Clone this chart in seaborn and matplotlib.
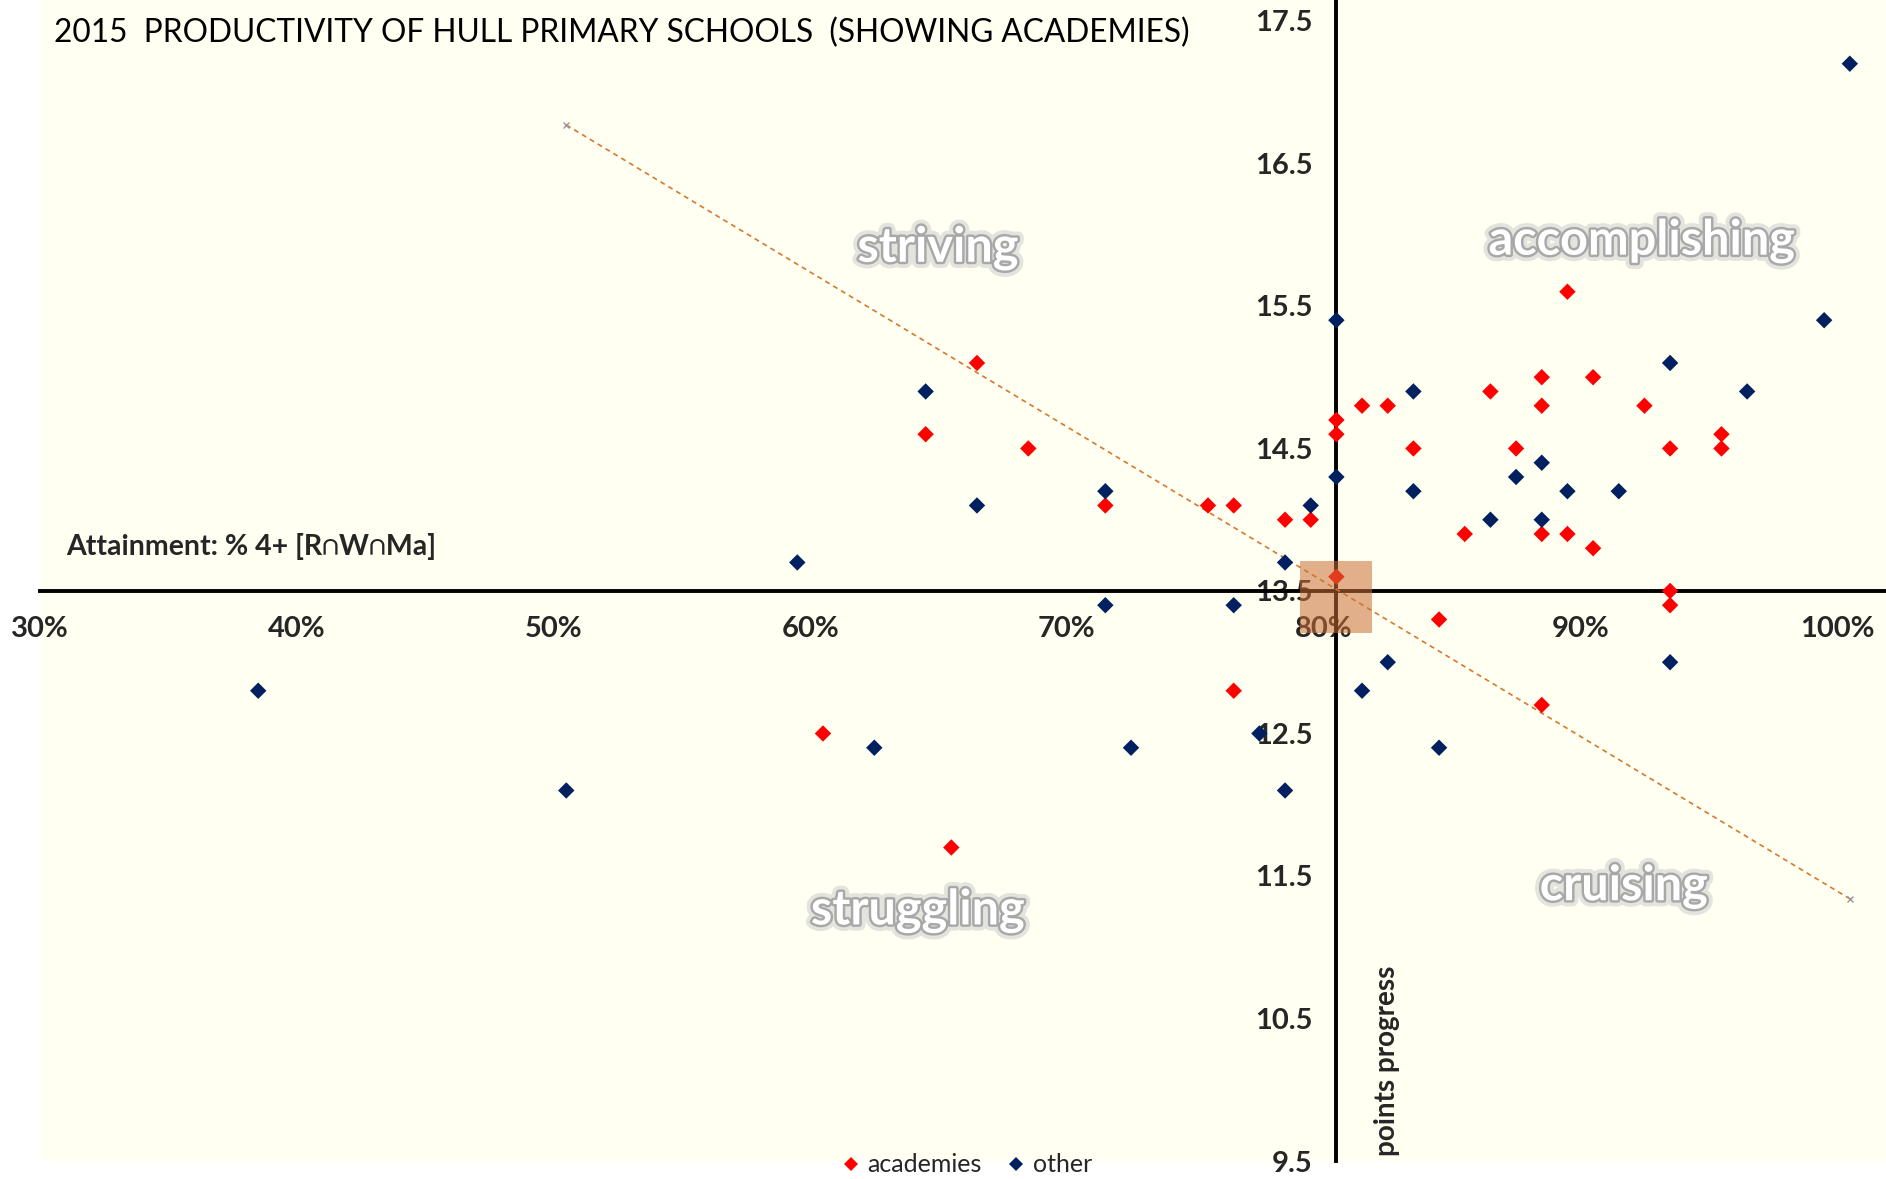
import pandas as pd
import seaborn as sns
import matplotlib.pyplot as plt
import matplotlib.patheffects as pe
import numpy as np

# data (attainment %, points progress)
acad_x = [89.5, 66.5, 88.5, 90.5, 86.5, 81.5, 82.5, 88.5, 92.5, 80.5, 80.5, 64.5,
          95.5, 68.5, 83.5, 87.5, 93.5, 95.5, 71.5, 75.5, 76.5, 78.5, 79.5, 85.5,
          88.5, 89.5, 90.5, 80.5, 93.5, 93.5, 84.5, 76.5, 88.5, 60.5, 65.5]
acad_y = [15.6, 15.1, 15.0, 15.0, 14.9, 14.8, 14.8, 14.8, 14.8, 14.7, 14.6, 14.6,
          14.6, 14.5, 14.5, 14.5, 14.5, 14.5, 14.1, 14.1, 14.1, 14.0, 14.0, 13.9,
          13.9, 13.9, 13.8, 13.6, 13.5, 13.4, 13.3, 12.8, 12.7, 12.5, 11.7]

other_x = [100.5, 80.5, 99.5, 93.5, 96.5, 83.5, 64.5, 80.5, 88.5, 83.5, 89.5, 91.5,
           87.5, 71.5, 66.5, 79.5, 86.5, 88.5, 59.5, 78.5, 71.5, 76.5, 38.5, 81.5,
           82.5, 93.5, 77.5, 62.5, 72.5, 84.5, 50.5, 78.5]
other_y = [17.2, 15.4, 15.4, 15.1, 14.9, 14.9, 14.9, 14.3, 14.4, 14.2, 14.2, 14.2,
           14.3, 14.2, 14.1, 14.1, 14.0, 14.0, 13.7, 13.7, 13.4, 13.4, 12.8, 12.8,
           13.0, 13.0, 12.5, 12.4, 12.4, 12.4, 12.1, 12.1]

trend_x = [50.5, 100.5]
trend_y = [16.77, 11.34]

origin_x = [80.5]
origin_y = [13.46]

x_ticks = [30, 40, 50, 60, 70, 80, 90, 100]
y_ticks = [9.5, 10.5, 11.5, 12.5, 13.5, 14.5, 15.5, 16.5, 17.5]

df = pd.DataFrame({
    'attainment': acad_x + other_x,
    'progress': acad_y + other_y,
    'group': ['academies'] * len(acad_x) + ['other'] * len(other_x),
})

sns.set_style('white')
plt.rcParams['font.family'] = ['Lato', 'DejaVu Sans']

W, H = 1886, 1179
fig = plt.figure(figsize=(W / 100, H / 100), dpi=100)
fig.patch.set_facecolor('white')
ax = fig.add_axes([40 / W, 18 / H, 1846 / W, 1161 / H])
ax.set_facecolor('#FFFFF2')

palette = {'academies': '#FF0000', 'other': '#002060'}
sns.scatterplot(data=df, x='attainment', y='progress', hue='group', palette=palette,
                marker='D', s=70, linewidth=0, legend=False, ax=ax, zorder=4)

ax.plot(trend_x, trend_y, color='#D9782D', lw=1.2, ls=(0, (3, 2.5)),
        marker='x', ms=5, mec='#999999', mew=1, zorder=3)

# the peach square at the axis crossing
ax.scatter(origin_x, origin_y, marker='s', s=52 ** 2, color='#CA6F36', alpha=0.55,
           linewidth=0, zorder=6)

ax.set_xlim(30, 101.91)
ax.set_ylim(9.5, 17.647)

# axes cross at (80.5, 13.5)
for side in ['top', 'right']:
    ax.spines[side].set_visible(False)
ax.spines['left'].set_position(('data', 80.5))
ax.spines['bottom'].set_position(('data', 13.5))
for side in ['left', 'bottom']:
    ax.spines[side].set_linewidth(2.8)
    ax.spines[side].set_color('black')
    ax.spines[side].set_zorder(2.5)

ax.set_xticks(x_ticks)
ax.set_xticklabels([f'{t}%' for t in x_ticks])
ax.set_yticks(y_ticks)
ax.set_yticklabels([f'{t}' for t in y_ticks])
ax.tick_params(axis='both', direction='inout', length=12, width=2.2, color='black',
               labelsize=21)
ax.tick_params(axis='x', pad=12)
ax.tick_params(axis='y', pad=11)
for lab in ax.get_xticklabels() + ax.get_yticklabels():
    lab.set_fontweight('bold')

ax.set_xlabel('Attainment: % 4+ [R∩W∩Ma]', fontsize=20.5, fontweight='bold',
              ha='left', va='center')
ax.xaxis.set_label_coords(26 / 1846, (1161 - 547) / 1161)
ax.set_ylabel('points progress', fontsize=20, fontweight='bold',
              ha='center', va='center')
ax.yaxis.set_label_coords((1387 - 40) / 1846, (1161 - 1061) / 1161)

# quadrant names
glow = [pe.Stroke(linewidth=9, foreground='#e4e4de'),
        pe.Stroke(linewidth=3.5, foreground='#a8a8a8'),
        pe.Normal()]
quads = [('striving', 64.98, 15.91), ('accomplishing', 92.4, 15.96),
         ('struggling', 64.2, 11.26), ('cruising', 91.7, 11.43)]
for name, qx, qy in quads:
    ax.text(qx, qy, name, fontsize=35, fontweight='bold', color='white',
            ha='center', va='center', path_effects=glow, zorder=5)

fig.text(54 / W, 1 - 33 / H,
         '2015  PRODUCTIVITY OF HULL PRIMARY SCHOOLS  (SHOWING ACADEMIES)',
         fontsize=22.8, ha='left', va='center', color='black')

handles = [plt.Line2D([], [], ls='', marker='D', ms=7, mew=0, color=palette[k])
           for k in palette]
fig.legend(handles, list(palette), loc='center', bbox_to_anchor=(0.513, 0.0119),
           ncol=2, frameon=False, fontsize=18, handlelength=0.6, handletextpad=0.35,
           columnspacing=1.1, borderpad=0, borderaxespad=0)

fig.savefig('out.png', dpi=100)
